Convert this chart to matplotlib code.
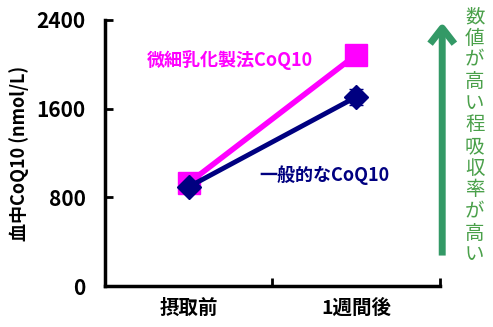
import matplotlib
matplotlib.use("Agg")
import matplotlib.pyplot as plt
from matplotlib.patches import FancyArrowPatch

plt.rcParams['font.family'] = ['Noto Sans CJK JP', 'DejaVu Sans']

timepoints = ['摂取前', '1週間後']
emulsified = [930, 2085]
emulsified_err = [0, 90]
standard = [895, 1705]
standard_err = [0, 75]
yticks = [0, 800, 1600, 2400]

pink = '#ff00ff'
navy = '#000080'
green = '#339966'

fig = plt.figure(figsize=(4.93, 3.27), dpi=100)
ax = fig.add_axes([0.213, 0.125, 0.679, 0.814])

x = range(len(timepoints))
ax.errorbar(x, emulsified, yerr=emulsified_err, color=pink, lw=4,
            marker='s', ms=16, capsize=5, elinewidth=1.5, zorder=2)
ax.errorbar(x, standard, yerr=standard_err, color=navy, lw=3.5,
            marker='D', ms=12.5, capsize=5, elinewidth=1.5, zorder=3)

ax.set_xlim(-0.5, 1.5)
ax.set_ylim(0, 2400)
ax.set_yticks(yticks)
ax.set_yticklabels([str(v) for v in yticks], fontsize=15, fontweight='bold')
ax.set_xticks([-0.5, 0.5, 1.5])
ax.set_xticklabels([])
ax.set_xticks(list(x), minor=True)
ax.set_xticklabels(timepoints, minor=True, fontsize=14, fontweight='bold')
ax.tick_params(axis='x', which='minor', length=0, pad=9)
ax.tick_params(axis='x', which='major', direction='in', length=6, width=2)
ax.tick_params(axis='y', direction='in', length=6, width=2, pad=14)
for s in ['top', 'right']:
    ax.spines[s].set_visible(False)
for s in ['left', 'bottom']:
    ax.spines[s].set_linewidth(2.5)

ax.set_ylabel('血中CoQ10 (nmol/L)', fontsize=13, fontweight='bold', labelpad=5)

ax.text(0.246, 2040, '微細乳化製法CoQ10', color=pink, fontsize=13,
        fontweight='bold', ha='center', va='center')
ax.text(0.813, 1000, '一般的なCoQ10', color=navy, fontsize=13,
        fontweight='bold', ha='center', va='center')

# green arrow and vertical note on the right
arrow = FancyArrowPatch((0.897, 0.21), (0.897, 0.94),
                        transform=fig.transFigure,
                        arrowstyle='->,head_length=4.5,head_width=3.5',
                        color=green, lw=5, mutation_scale=2.5,
                        joinstyle='round', capstyle='butt')
fig.add_artist(arrow)
note = '数値が高い程吸収率が高い'
fig.text(0.963, 0.585, '\n'.join(note), color='#4aa04a', fontsize=14,
         ha='center', va='center', linespacing=1.04)

fig.savefig('out.png', dpi=100)
